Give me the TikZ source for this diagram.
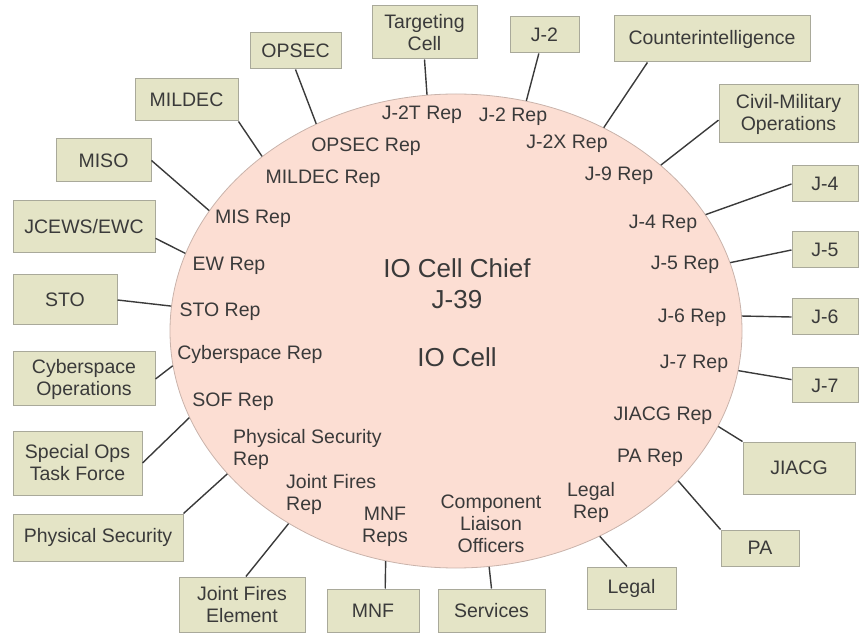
\documentclass[tikz,border=0pt]{standalone}
\usepackage{fontspec}
\setmainfont{Liberation Sans}
\usepackage{tikz}
\usetikzlibrary{shapes.geometric}
\definecolor{cellfill}{HTML}{FCDED3}
\definecolor{celledge}{HTML}{C9B3AB}
\definecolor{unitfill}{HTML}{E4E4C6}
\definecolor{unitedge}{HTML}{A9A99A}
\definecolor{ink}{HTML}{3A3A3A}
\tikzset{
  unit/.style={rectangle,fill=unitfill,draw=unitedge,line width=1pt,text=ink,align=center,inner sep=0pt,font=\fontsize{19.5}{22}\selectfont},
  rep/.style={text=ink,align=center,inner sep=0pt,font=\fontsize{19.5}{22}\selectfont},
  chief/.style={text=ink,align=center,inner sep=0pt,font=\fontsize{26}{31}\selectfont},
  link/.style={draw=ink,line width=1.4pt},
}
\begin{document}
\begin{tikzpicture}[x=1pt,y=-1pt]
\useasboundingbox (0,0) rectangle (860,636);
\node[ellipse,fill=cellfill,draw=celledge,line width=0.8pt,minimum width=572pt,minimum height=474pt,inner sep=0pt] (cell) at (456,331) {};
\node[chief] (chief) at (457,284) {IO Cell Chief\\J-39};
\node[chief] (iocell) at (457,357) {IO Cell};
\node[rep] (j2trep) at (422,115) {J-2T Rep};
\node[rep] (j2rep) at (513,117) {J-2 Rep};
\node[rep] (j2xrep) at (567,144) {J-2X Rep};
\node[rep] (j9rep) at (619,176) {J-9 Rep};
\node[rep] (j4rep) at (663,224) {J-4 Rep};
\node[rep] (j5rep) at (685,265) {J-5 Rep};
\node[rep] (j6rep) at (692,318) {J-6 Rep};
\node[rep] (j7rep) at (694,364) {J-7 Rep};
\node[rep] (jiacgrep) at (663,416) {JIACG Rep};
\node[rep] (parep) at (650,458) {PA Rep};
\node[rep] (legalrep) at (591,502) {Legal\\Rep};
\node[rep] (clo) at (491,524) {Component\\Liaison\\Officers};
\node[rep] (mnfrep) at (385,527) {MNF\\Reps};
\node[rep,align=left,anchor=west] (jfrep) at (286,494) {Joint Fires\\Rep};
\node[rep,align=left,anchor=west] (psrep) at (233,449) {Physical Security\\Rep};
\node[rep] (sofrep) at (233,402) {SOF Rep};
\node[rep] (cyrep) at (250,354) {Cyberspace Rep};
\node[rep] (storep) at (220,312) {STO Rep};
\node[rep] (ewrep) at (229,266) {EW Rep};
\node[rep] (misrep) at (253,219) {MIS Rep};
\node[rep] (mildecrep) at (323,179) {MILDEC Rep};
\node[rep] (opsecrep) at (366,147) {OPSEC Rep};
\node[unit,minimum width=105pt,minimum height=53pt] (tc) at (424.5,32.5) {Targeting\\Cell};
\node[unit,minimum width=69pt,minimum height=36pt] (j2) at (544.5,35) {J-2};
\node[unit,minimum width=196pt,minimum height=46pt] (ci) at (712,39) {Counterintelligence};
\node[unit,minimum width=139pt,minimum height=58pt] (cmo) at (788.5,114) {Civil-Military\\Operations};
\node[unit,minimum width=66pt,minimum height=36pt] (j4) at (825,184) {J-4};
\node[unit,minimum width=66pt,minimum height=36pt] (j5) at (825,250) {J-5};
\node[unit,minimum width=66pt,minimum height=36pt] (j6) at (825,317) {J-6};
\node[unit,minimum width=66pt,minimum height=35pt] (j7) at (825,385.5) {J-7};
\node[unit,minimum width=112pt,minimum height=52pt] (jiacg) at (799,468) {JIACG};
\node[unit,minimum width=78pt,minimum height=36pt] (pa) at (760,548) {PA};
\node[unit,minimum width=89pt,minimum height=42pt] (legal) at (631.5,588) {Legal};
\node[unit,minimum width=107pt,minimum height=43pt] (svc) at (491.5,610.5) {Services};
\node[unit,minimum width=92pt,minimum height=43pt] (mnf) at (373,610.5) {MNF};
\node[unit,minimum width=126pt,minimum height=55pt] (jfe) at (242,604.5) {Joint Fires\\Element};
\node[unit,minimum width=170pt,minimum height=47pt] (physec) at (98,537.5) {Physical Security};
\node[unit,minimum width=129pt,minimum height=64pt] (sotf) at (77.5,463) {Special Ops\\Task Force};
\node[unit,minimum width=142pt,minimum height=54pt] (cyo) at (84,379) {Cyberspace\\Operations};
\node[unit,minimum width=104pt,minimum height=50pt] (sto) at (65,300) {STO};
\node[unit,minimum width=142pt,minimum height=52pt] (jcews) at (84,227) {JCEWS/EWC};
\node[unit,minimum width=95pt,minimum height=43pt] (miso) at (103.5,160.5) {MISO};
\node[unit,minimum width=103pt,minimum height=42pt] (mildec) at (186.5,100) {MILDEC};
\node[unit,minimum width=91pt,minimum height=36pt] (opsec) at (295.5,51) {OPSEC};
\draw[link] (tc.south) -- (cell.97);
\draw[link] (j2.-107) -- (cell.73);
\draw[link] (ci.200) -- (cell.54);
\draw[link] (cmo.185) -- (cell.39);
\draw[link] (j4.west) -- (cell.25);
\draw[link] (j5.west) -- (cell.14);
\draw[link] (j6.west) -- (cell.3);
\draw[link] (j7.170) -- (cell.-8);
\draw[link] (jiacg.north west) -- (cell.-20);
\draw[link] (pa.north west) -- (cell.-34);
\draw[link] (legal.102) -- (cell.-55);
\draw[link] (svc.north) -- (cell.-82);
\draw[link] (mnf.61) -- (cell.-107);
\draw[link] (jfe.82) -- (cell.-131);
\draw[link] (physec.north east) -- (cell.-148);
\draw[link] (sotf.east) -- (cell.-162);
\draw[link] (cyo.east) -- (cell.-173);
\draw[link] (sto.east) -- (cell.175);
\draw[link] (jcews.-9) -- (cell.164);
\draw[link] (miso.east) -- (cell.154);
\draw[link] (mildec.south east) -- (cell.138);
\draw[link] (opsec.south) -- (cell.124);
\end{tikzpicture}
\end{document}
